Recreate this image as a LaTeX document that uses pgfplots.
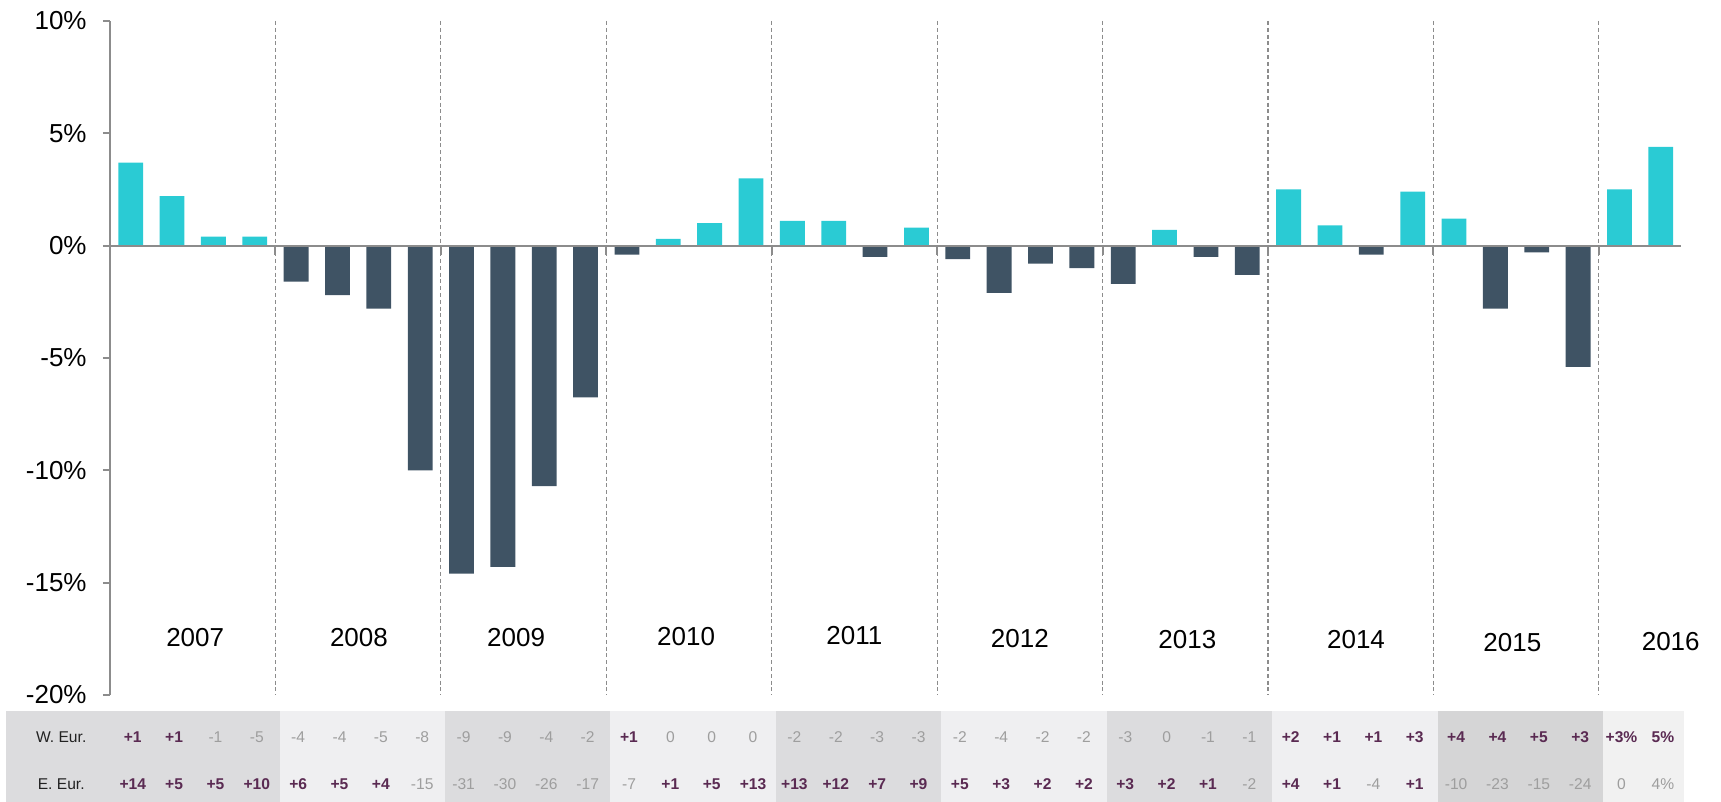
\documentclass[border=0pt]{standalone}
\usepackage{fontspec}
\setmainfont{Liberation Sans}
\usepackage{pgfplots}
\pgfplotsset{compat=1.18}

\definecolor{barCyan}{HTML}{2ACBD4}
\definecolor{barDark}{HTML}{3F5364}
\definecolor{axGray}{HTML}{8C8C8C}
\definecolor{tabDark}{HTML}{DCDCDE}
\definecolor{tabLight}{HTML}{EFEFF1}
\definecolor{tabDarker}{HTML}{D5D5D6}
\definecolor{tabLast}{HTML}{F1F1F1}
\definecolor{valPos}{HTML}{5A2A52}
\definecolor{valNeg}{HTML}{9E9E9E}
\definecolor{lblCol}{HTML}{222222}

\begin{document}
\begin{tikzpicture}
\begin{axis}[
  at={(0,0)}, anchor=south west,
  scale only axis, width=785.75pt, height=337pt,
  xmin=-0.5, xmax=37.5, ymin=-20, ymax=10,
  clip=false,
  axis x line=none,
  axis y line=left,
  y axis line style={-, line width=1pt, draw=axGray},
  ytick={-20,-15,-10,-5,0,5,10},
  yticklabels={-20\%,-15\%,-10\%,-5\%,0\%,5\%,10\%},
  yticklabel style={font=\fontsize{13}{15}\selectfont, inner sep=0pt, anchor=east, text=black, xshift=-8pt},
  tick align=outside,
  major tick length=3.5pt,
  ytick style={line width=1pt, draw=axGray},
  ybar, bar width=0.6,
]
% positive changes
\addplot[fill=barCyan, draw=none, bar shift=0pt] coordinates {
 (0,3.7) (1,2.2) (2,0.4) (3,0.4)
 (13,0.3) (14,1.0) (15,3.0)
 (16,1.1) (17,1.1) (19,0.8)
 (25,0.7)
 (28,2.5) (29,0.9) (31,2.4)
 (32,1.2)
 (36,2.5) (37,4.4)
};
% negative changes
\addplot[fill=barDark, draw=none, bar shift=0pt] coordinates {
 (4,-1.6) (5,-2.2) (6,-2.8) (7,-10.0)
 (8,-14.6) (9,-14.3) (10,-10.7) (11,-6.75)
 (12,-0.4)
 (18,-0.5)
 (20,-0.6) (21,-2.1) (22,-0.8) (23,-1.0)
 (24,-1.7) (26,-0.5) (27,-1.3)
 (30,-0.4)
 (33,-2.8) (34,-0.3) (35,-5.4)
};
\draw[axGray, line width=1pt] (axis cs:-0.5,0) -- (axis cs:37.5,0);
\pgfplotsinvokeforeach{3.5,7.5,11.5,15.5,19.5,23.5,27.5,31.5,35.5}{
  \draw[axGray, line width=0.6pt, dash pattern=on 2pt off 1.4pt] (axis cs:#1,10) -- (axis cs:#1,-20);
  \draw[axGray, line width=1pt] (axis cs:#1,0) -- (axis cs:#1,-0.42);
}
\end{axis}

% year labels and table (same coordinate system as the axis: x = bar index, y = percent)
\begin{scope}[x=20.6776pt, y=11.2333pt, shift={(10.3388pt,224.667pt)}]
  \foreach \x/\y/\t in {1.56/-17.45/2007, 5.52/-17.45/2008, 9.32/-17.45/2009,
      13.43/-17.38/2010, 17.50/-17.35/2011, 21.50/-17.50/2012, 25.55/-17.55/2013,
      29.63/-17.55/2014, 33.41/-17.68/2015, 37.24/-17.63/2016}
    \node[font=\fontsize{13}{15}\selectfont, inner sep=0pt] at (\x,\y) {\t};

  \fill[tabDark]   (-3.01,-20.72) rectangle (3.6,-25.2);
  \fill[tabLight]  (3.6,-20.72) rectangle (7.6,-25.2);
  \fill[tabDark]   (7.6,-20.72) rectangle (11.6,-25.2);
  \fill[tabLight]  (11.6,-20.72) rectangle (15.6,-25.2);
  \fill[tabDark]   (15.6,-20.72) rectangle (19.6,-25.2);
  \fill[tabLight]  (19.6,-20.72) rectangle (23.6,-25.2);
  \fill[tabDark]   (23.6,-20.72) rectangle (27.6,-25.2);
  \fill[tabLight]  (27.6,-20.72) rectangle (31.6,-25.2);
  \fill[tabDarker] (31.6,-20.72) rectangle (35.6,-25.2);
  \fill[tabLast]   (35.6,-20.72) rectangle (37.55,-25.2);

  \node[font=\fontsize{7.8}{9}\selectfont, text=lblCol, inner sep=0pt] at (-1.68,-21.86) {W. Eur.};
  \node[font=\fontsize{7.8}{9}\selectfont, text=lblCol, inner sep=0pt] at (-1.68,-23.97) {E. Eur.};

  % W. Eur. row
  \foreach \i/\s in {0/+1,1/+1,12/+1,28/+2,29/+1,30/+1,31/+3,32/+4,33/+4,34/+5,35/+3,36/+3\%,37/5\%}
    \node[font=\fontsize{7.8}{9}\selectfont\bfseries, text=valPos, inner sep=0pt] at (\i+0.05,-21.86) {\s};
  \foreach \i/\s in {2/-1,3/-5,4/-4,5/-4,6/-5,7/-8,8/-9,9/-9,10/-4,11/-2,13/0,14/0,15/0,
      16/-2,17/-2,18/-3,19/-3,20/-2,21/-4,22/-2,23/-2,24/-3,25/0,26/-1,27/-1}
    \node[font=\fontsize{7.8}{9}\selectfont, text=valNeg, inner sep=0pt] at (\i+0.05,-21.86) {\s};

  % E. Eur. row
  \foreach \i/\s in {0/+14,1/+5,2/+5,3/+10,4/+6,5/+5,6/+4,13/+1,14/+5,15/+13,16/+13,17/+12,
      18/+7,19/+9,20/+5,21/+3,22/+2,23/+2,24/+3,25/+2,26/+1,28/+4,29/+1,31/+1}
    \node[font=\fontsize{7.8}{9}\selectfont\bfseries, text=valPos, inner sep=0pt] at (\i+0.05,-23.97) {\s};
  \foreach \i/\s in {7/-15,8/-31,9/-30,10/-26,11/-17,12/-7,27/-2,30/-4,32/-10,33/-23,34/-15,35/-24,36/0,37/4\%}
    \node[font=\fontsize{7.8}{9}\selectfont, text=valNeg, inner sep=0pt] at (\i+0.05,-23.97) {\s};
\end{scope}

\pgfresetboundingbox
\useasboundingbox (-55pt,-53.5pt) rectangle (805.5pt,347.5pt);
\end{tikzpicture}
\end{document}
